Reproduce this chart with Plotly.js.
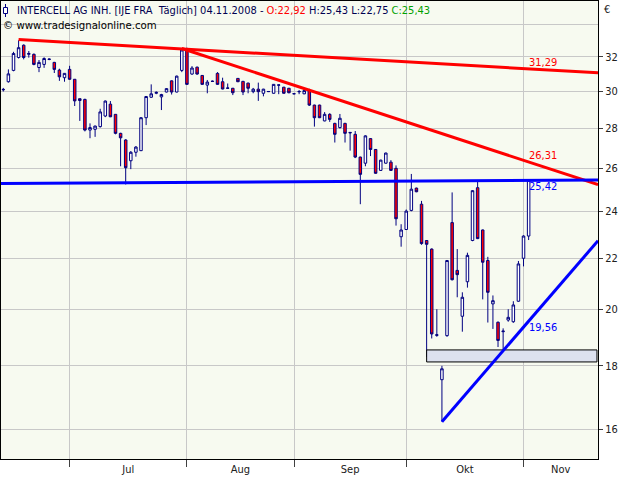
<!DOCTYPE html>
<html><head><meta charset="utf-8">
<script src="https://cdn.plot.ly/plotly-3.0.1.min.js"></script>
<style>html,body{margin:0;padding:0;background:#fff}#chart{width:640px;height:480px}</style>
</head><body><div id="chart"></div>
<script>
// ---- daily OHLC, 12.06.2008 .. 04.11.2008 (trading-day index 0..103) ----
const openV = [
 30.12,30.55,31.2,31.96,32.7,32.15,32.15,31.37,31.55,31.87,   // 0-9
 31.67,31.22,30.78,31.26,30.69,29.6,29.56,27.92,27.96,28.1,   // 10-19
 28.66,29.3,28.75,27.75,27.41,26.37,26.79,26.87,28.57,29.68,  // 20-29
 29.9,29.7,29.97,30.6,29.97,31.2,32.41,30.99,31.39,30.91,     // 30-39
 30.36,30.58,31.03,30.55,30.2,30.18,30.74,30.57,30.47,29.99,  // 40-49
 30.13,29.9,29.99,29.9,30.35,30.24,30.18,29.88,29.98,29.87,   // 50-59
 30.05,29.25,29.25,28.4,28.75,28.27,28.05,28.27,27.8,27.7,    // 60-69
 26.55,26.25,27.48,26.93,25.9,26.25,26.3,26.0,22.89,23.2,     // 70-79
 24.04,25.06,24.32,22.73,22.37,19.05,17.54,19.04,23.5,21.5,   // 80-89
 19.74,21.05,22.73,25.08,23.18,21.9,20.2,19.52,19.18,19.6,    // 90-99
 19.54,20.3,21.99,22.92                                       // 100-103
];
const highV = [
 30.2,31.26,32.3,33.0,32.75,32.35,32.2,31.81,31.97,31.9,
 31.7,31.3,31.05,31.47,30.7,29.6,29.6,28.27,28.15,29.05,
 29.5,29.47,28.75,27.78,27.45,26.85,27.1,28.6,29.75,30.4,
 30.0,29.87,30.18,30.62,30.9,32.5,32.55,31.45,31.42,30.93,
 30.65,30.62,31.1,30.78,30.45,30.2,30.76,30.6,30.5,30.2,
 30.5,30.15,30.02,30.42,30.38,30.26,30.2,29.9,30.08,30.18,
 30.15,29.27,29.27,28.87,28.81,28.3,28.77,28.3,27.82,27.87,
 26.57,27.65,27.5,26.95,26.42,26.77,26.4,26.14,23.43,24.08,
 25.73,25.08,24.47,22.75,22.4,20.0,18.0,21.92,24.86,22.37,
 20.64,22.22,24.96,25.38,23.2,22.05,20.52,19.55,19.3,20.0,
 20.3,21.88,22.95,25.43
];
const lowV = [
 30.0,30.5,31.15,31.9,31.85,31.95,31.5,31.1,31.35,31.8,
 31.05,30.6,30.55,30.65,29.2,28.4,27.85,27.5,27.57,28.05,
 28.6,28.6,27.7,26.1,25.23,25.96,26.57,26.85,28.18,29.65,
 29.85,28.98,29.95,29.83,29.95,31.1,30.38,30.95,30.95,30.38,
 29.9,30.55,30.38,30.12,30.15,29.8,30.53,29.8,29.9,29.9,
 29.48,29.73,29.97,29.88,29.85,29.88,29.9,29.85,29.85,29.85,
 29.2,28.1,28.55,28.38,28.35,27.28,28.0,27.28,26.87,26.5,
 24.32,26.1,26.6,25.74,25.88,26.23,25.88,23.37,22.47,23.18,
 24.0,24.87,22.55,18.3,18.94,19.0,16.22,19.0,21.1,20.45,
 19.18,20.82,22.7,22.79,20.37,19.51,19.28,18.64,18.55,19.54,
 19.5,20.28,21.66,22.75
];
const closeV = [
 30.1,31.0,32.2,32.55,31.96,32.2,31.55,31.67,31.9,31.85,
 31.26,30.83,31.03,30.69,29.48,29.5,27.92,28.05,28.13,28.88,
 29.47,28.62,27.75,27.52,26.03,26.79,27.05,28.57,29.72,29.87,
 29.95,29.83,30.16,29.97,30.87,32.41,30.4,31.34,30.99,30.4,
 30.53,30.57,30.4,30.14,30.18,29.93,30.55,29.97,30.18,30.13,
 29.99,30.13,30.0,30.4,30.37,29.9,29.93,29.87,30.0,30.05,
 29.25,28.57,28.57,28.75,28.48,27.7,28.54,27.75,27.78,26.55,
 25.71,27.62,26.93,25.76,26.4,26.75,25.9,23.67,23.18,24.01,
 25.01,24.89,22.6,22.57,19.1,19.07,17.9,21.9,21.13,21.33,
 20.45,22.11,24.94,22.81,21.83,20.64,20.32,18.87,19.2,19.7,
 20.16,21.76,22.92,25.43
];

// ---- axis data ----
const monthLabels = ['Jul','Aug','Sep','Okt','Nov'];
const monthStartIdx = [13, 36, 57, 79, 102];   // first trading day of each month
const yTickVals = [16,18,20,22,24,26,28,30,32];
const yTickText = ['16','18','20','22','24','26','28','30','32'];
const yGridExtra = [34];

// ---- drawing tools (trend lines / box) ----
const trendStartIdx = [3, 35, -0.45, 86];
const trendStartVal = [33.05, 32.5, 25.27, 16.22];
const trendLastVal  = [31.29, 26.31, 25.42, 19.56];   // value at last bar
const trendLabels   = ['31,29','26,31','25,42','19,56'];
const trendColors   = ['#ff0000','#ff0000','#0000ff','#0000ff'];
const trendLabelPos = ['bottom','bottom','top','top'];
const boxStartIdx = 83;
const boxLow = 18.13, boxHigh = 18.54;

const X_MIN = -0.45, X_MAX = 116.6;
const idx = openV.map((_, i) => i);
const lastIdx = idx.length - 1;

const monthMid = monthStartIdx.map((s, k) =>
  (s + (k + 1 < monthStartIdx.length ? monthStartIdx[k + 1] : X_MAX)) / 2);

const FONT = "Tahoma, 'DejaVu Sans Condensed', 'Liberation Sans', 'DejaVu Sans', sans-serif";
const NAVY = '#000080';

const traces = [{
  type: 'candlestick',
  x: idx, open: openV, high: highV, low: lowV, close: closeV,
  increasing: {line: {color: NAVY, width: 1}, fillcolor: '#ffffff'},
  decreasing: {line: {color: NAVY, width: 1}, fillcolor: '#ff0000'},
  whiskerwidth: 0, hoverinfo: 'skip', showlegend: false
}, {
  type: 'scatter', mode: 'lines',
  x: [boxStartIdx, X_MAX - 0.2, X_MAX - 0.2, boxStartIdx, boxStartIdx],
  y: [boxLow, boxLow, boxHigh, boxHigh, boxLow],
  fill: 'toself', fillcolor: '#dde1ef',
  line: {color: '#000000', width: 1}, hoverinfo: 'skip', showlegend: false
}];

const annotations = [];
trendStartIdx.forEach((si, k) => {
  const sv = trendStartVal[k], lv = trendLastVal[k];
  const slope = Math.log(lv / sv) / (lastIdx - si);
  const endVal = sv * Math.exp(slope * (X_MAX - si));
  traces.push({
    type: 'scatter', mode: 'lines', x: [si, X_MAX], y: [sv, endVal],
    line: {color: trendColors[k], width: 3}, hoverinfo: 'skip', showlegend: false
  });
  annotations.push({
    x: lastIdx, y: Math.log10(lv), xref: 'x', yref: 'y',
    xanchor: 'left', yanchor: trendLabelPos[k], showarrow: false,
    text: trendLabels[k], xshift: -2, yshift: trendLabelPos[k] === 'bottom' ? -2 : 2,
    font: {family: FONT, size: 11, color: trendColors[k]}
  });
});

// pixel helpers for header decoration (plot area 1..598 x 1..459)
const PL = 1, PT = 1, PW = 597, PH = 458;
const px = v => (v - PL) / PW, py = v => 1 - (v - PT) / PH;

annotations.push({
  xref: 'paper', yref: 'paper', x: px(15), y: py(10.5), xanchor: 'left', yanchor: 'middle',
  showarrow: false, align: 'left',
  text: 'INTERCELL AG INH. [IJE FRA\u00a0\u00a0Täglich] 04.11.2008 - <span style="color:#ff0000">O:22,92</span> H:25,43 L:22,75 <span style="color:#00a000">C:25,43</span>',
  font: {family: FONT, size: 11, color: '#000050'}
});
annotations.push({
  xref: 'paper', yref: 'paper', x: px(1), y: py(26), xanchor: 'left', yanchor: 'middle',
  showarrow: false, text: '© www.tradesignalonline.com',
  font: {family: FONT, size: 11.3, color: '#000000'}
});
annotations.push({
  xref: 'paper', yref: 'paper', x: px(602), y: py(10), xanchor: 'left', yanchor: 'middle',
  showarrow: false, text: '€', font: {family: FONT, size: 11, color: '#202020'}
});

const shapes = [
  {type: 'line', xref: 'paper', yref: 'paper', x0: px(5.5), x1: px(5.5), y0: py(4), y1: py(17),
   line: {color: NAVY, width: 1}},
  {type: 'rect', xref: 'paper', yref: 'paper', x0: px(3.5), x1: px(7.5), y0: py(7.5), y1: py(13.5),
   line: {color: NAVY, width: 1}, fillcolor: '#ffffff'}
];

const layout = {
  width: 640, height: 480,
  margin: {l: 1, r: 42, t: 1, b: 21, pad: 0},
  paper_bgcolor: '#ffffff', plot_bgcolor: '#f7faf0',
  showlegend: false, boxgap: 0.3,
  font: {family: FONT, size: 11, color: '#202020'},
  xaxis: {
    range: [X_MIN, X_MAX], tickmode: 'array', tickvals: monthMid, ticktext: monthLabels,
    ticks: '', showgrid: false, zeroline: false,
    showline: true, mirror: true, linecolor: '#000000', linewidth: 1,
    rangeslider: {visible: false}, fixedrange: true,
    tickfont: {family: FONT, size: 11, color: '#202020'},
    minor: {tickmode: 'array', tickvals: monthStartIdx, showgrid: true, gridcolor: '#c8c8c8',
            gridwidth: 1, ticks: 'outside', ticklen: 7, tickcolor: '#404040', tickwidth: 1}
  },
  yaxis: {
    type: 'log', range: [1.1799, 1.5503], side: 'right',
    tickmode: 'array', tickvals: yTickVals, ticktext: yTickText,
    ticks: 'outside', ticklen: 4, tickcolor: '#404040',
    showgrid: true, gridcolor: '#c8c8c8', gridwidth: 1, zeroline: false,
    showline: true, mirror: true, linecolor: '#000000', linewidth: 1, fixedrange: true,
    tickfont: {family: FONT, size: 11, color: '#202020'},
    minor: {tickmode: 'array', tickvals: yGridExtra, showgrid: true, gridcolor: '#c8c8c8', ticks: ''}
  },
  annotations: annotations,
  shapes: shapes
};

Plotly.newPlot('chart', traces, layout, {displayModeBar: false, staticPlot: true});
</script></body></html>
